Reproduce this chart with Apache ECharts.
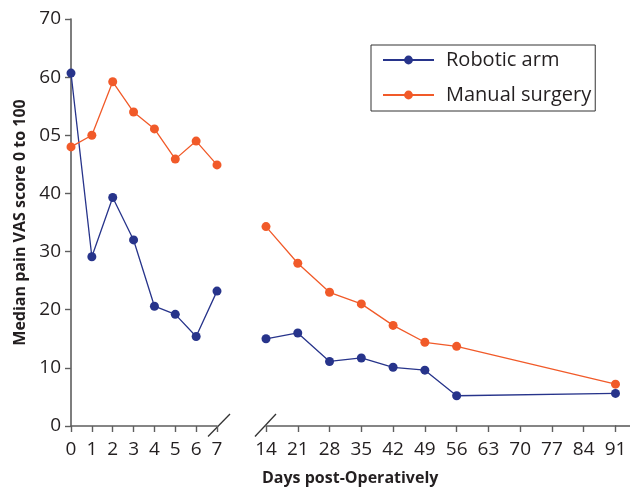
<!DOCTYPE html>
<html><head><meta charset="utf-8">
<script src="https://cdn.jsdelivr.net/npm/echarts@6/dist/echarts.min.js"></script>
<style>html,body{margin:0;padding:0;background:#fff}#c{width:630px;height:492px}</style>
</head><body><div id="c"></div>
<script>
const seriesNames = ['Robotic arm', 'Manual surgery'];
const daysEarly = [0, 1, 2, 3, 4, 5, 6, 7];
const daysLate = [14, 21, 28, 35, 42, 49, 56, 91];
const roboticEarly = [60.7, 29.1, 39.3, 32.0, 20.6, 19.2, 15.4, 23.2];
const roboticLate = [15.0, 16.0, 11.1, 11.7, 10.1, 9.6, 5.2, 5.6];
const manualEarly = [48.0, 50.0, 59.2, 54.0, 51.1, 45.9, 49.0, 44.9];
const manualLate = [34.3, 28.0, 23.0, 21.0, 17.3, 14.4, 13.7, 7.2];
const yTickValues = [0, 10, 20, 30, 40, 50, 60, 70];
const yTickLabels = ['0', '10', '20', '30', '40', '05', '60', '70'];
const xTitle = 'Days post-Operatively';
const yTitle = 'Median pain VAS score 0 to 100';

const FONT = 'Open Sans';
const AXIS = '#5e5e5e';
const TXT = '#231f20';
const BLUE = '#27348b';
const ORANGE = '#f15a29';

const chart = echarts.init(document.getElementById('c'), null, {renderer: 'canvas'});

function xAxisCfg(grid, min, max, interval) {
  return {
    type: 'value', gridIndex: grid, min: min, max: max, interval: interval,
    axisLine: {show: true, onZero: false, lineStyle: {color: AXIS, width: 1.6}},
    axisTick: {show: true, length: 6, lineStyle: {color: AXIS, width: 1.4}},
    axisLabel: {fontSize: 19, color: TXT, fontFamily: FONT, margin: 14},
    splitLine: {show: false}
  };
}

function pairs(xs, ys) { return xs.map((x, i) => [x, ys[i]]); }

function lineSeries(name, color, xIdx, xs, ys) {
  return {
    name: name, type: 'line', xAxisIndex: xIdx, yAxisIndex: xIdx,
    data: pairs(xs, ys), symbol: 'circle', symbolSize: 9,
    lineStyle: {color: color, width: 1.3},
    itemStyle: {color: color},
    emphasis: {disabled: true}, animation: false
  };
}

const option = {
  animation: false,
  textStyle: {fontFamily: FONT},
  grid: [
    {left: 71, top: 19, width: 146, height: 407},
    {left: 266, top: 19, width: 349.5, height: 407}
  ],
  xAxis: [xAxisCfg(0, 0, 7, 1), xAxisCfg(1, 14, 91, 7)],
  yAxis: [
    {
      type: 'value', gridIndex: 0, min: 0, max: 70, interval: 10,
      axisLine: {show: true, lineStyle: {color: AXIS, width: 1.6}},
      axisTick: {show: true, length: 6, lineStyle: {color: AXIS, width: 1.4}},
      axisLabel: {fontSize: 19, color: TXT, fontFamily: FONT, margin: 10,
        formatter: v => { const i = yTickValues.indexOf(v); return i >= 0 ? yTickLabels[i] : ''; }},
      splitLine: {show: false},
      name: yTitle, nameLocation: 'middle', nameGap: 43,
      nameTextStyle: {fontSize: 16, fontWeight: 'bold', color: TXT, fontFamily: FONT}
    },
    {type: 'value', gridIndex: 1, min: 0, max: 70, interval: 10, show: false}
  ],
  legend: {
    data: seriesNames, orient: 'vertical', left: 371, top: 45,
    itemWidth: 51, itemHeight: 11, itemGap: 11,
    padding: [3, 4, 4, 11],
    borderColor: '#333', borderWidth: 1,
    textStyle: {fontSize: 20, color: TXT, fontFamily: FONT, lineHeight: 24, padding: [0, 0, 0, 7]}
  },
  series: [
    lineSeries(seriesNames[0], BLUE, 0, daysEarly, roboticEarly),
    lineSeries(seriesNames[1], ORANGE, 0, daysEarly, manualEarly),
    lineSeries(seriesNames[0], BLUE, 1, daysLate, roboticLate),
    lineSeries(seriesNames[1], ORANGE, 1, daysLate, manualLate)
  ],
  graphic: [
    {type: 'line', shape: {x1: 208, y1: 436.5, x2: 230, y2: 414}, style: {stroke: '#333', lineWidth: 1.3}},
    {type: 'line', shape: {x1: 255, y1: 436.5, x2: 276, y2: 414}, style: {stroke: '#333', lineWidth: 1.3}},
    {type: 'line', shape: {x1: 615, y1: 426, x2: 630, y2: 426}, style: {stroke: AXIS, lineWidth: 1.6}},
    {type: 'text', left: 262, top: 470, style: {text: xTitle, font: 'bold 16px "Open Sans"', fill: TXT}}
  ]
};
chart.setOption(option);
</script>
</body></html>
